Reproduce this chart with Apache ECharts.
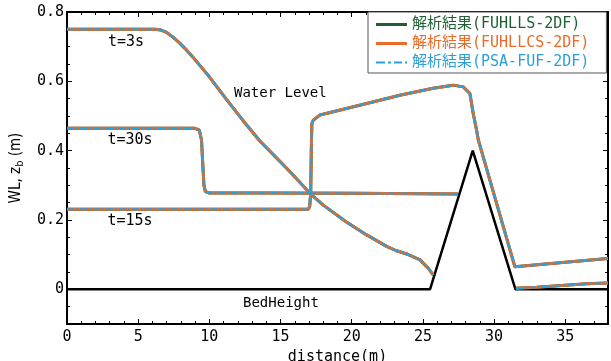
<!DOCTYPE html>
<html>
<head>
<meta charset="utf-8">
<script src="https://cdn.jsdelivr.net/npm/echarts@6.0.0/dist/echarts.min.js"></script>
<style>html,body{margin:0;padding:0;background:#fff;}#c{width:611px;height:361px;}</style>
</head>
<body>
<div id="c"></div>
<script>
// ---- data ----
const models = ['解析結果(FUHLLS-2DF)', '解析結果(FUHLLCS-2DF)', '解析結果(PSA-FUF-2DF)'];
const bedX = [0, 25.5, 28.5, 31.5, 38];
const bedZ = [0, 0, 0.4, 0, 0];
const t3X  = [0, 6.2, 6.6, 7.0, 7.4, 7.9, 8.4, 8.9, 10.0, 11.2, 12.4, 13.55, 14.7, 15.9, 17.06, 18.0, 19.6, 21.05, 22.45, 23.1, 23.86, 24.8, 25.37, 25.73];
const t3WL = [0.75, 0.75, 0.748, 0.741, 0.729, 0.711, 0.69, 0.667, 0.613, 0.548, 0.485, 0.428, 0.38, 0.329, 0.277, 0.243, 0.195, 0.157, 0.124, 0.112, 0.102, 0.085, 0.061, 0.041];
const t15X  = [0, 16.95, 17.05, 17.12, 17.16, 17.2, 17.3, 17.77, 21.05, 23.38, 25.72, 27.13, 27.83, 28.3, 28.53, 28.77, 28.89, 31.46, 35.0, 38.0];
const t15WL = [0.231, 0.231, 0.24, 0.28, 0.4, 0.478, 0.488, 0.503, 0.536, 0.56, 0.58, 0.589, 0.584, 0.565, 0.508, 0.459, 0.431, 0.065, 0.078, 0.089];
const t30X  = [0, 8.95, 9.3, 9.45, 9.55, 9.62, 9.72, 10.0, 14.0, 20.0, 25.0, 27.45];
const t30WL = [0.465, 0.465, 0.459, 0.43, 0.35, 0.3, 0.282, 0.278, 0.278, 0.277, 0.276, 0.275];
const t30dsX  = [31.53, 33.0, 35.0, 36.5, 38.0];
const t30dsWL = [0.003, 0.006, 0.012, 0.016, 0.018];
const yTickValues = [0, 0.2, 0.4, 0.6, 0.8];
const annotations = ['t=3s', 't=30s', 't=15s', 'Water Level', 'BedHeight'];

// ---- styling ----
const zip = (xs, ys) => xs.map((x, i) => [x, ys[i]]);
const curves = [zip(t3X, t3WL), zip(t15X, t15WL), zip(t30X, t30WL), zip(t30dsX, t30dsWL)];
const colors = ['#1F5F35', '#EA6A28', '#2B9FDA'];
const lineStyles = [
  { color: colors[0], width: 3, type: 'solid' },
  { color: colors[1], width: 3, type: 'solid' },
  { color: colors[2], width: 2, type: [7, 2, 2, 2] }
];
const legendIcons = [
  'path://M0,0h31v3h-31z',
  'path://M0,0h31v3h-31z',
  'path://M0,0.5h9v2h-9z M12,0.5h3v2h-3z M18,0.5h8v2h-8z M29,0.5h2v2h-2z'
];
const MONO = "'DejaVu Sans Mono', 'Noto Sans CJK JP', monospace";
const NARROW = "'Liberation Sans Narrow', 'DejaVu Sans Condensed', 'Liberation Sans', sans-serif";

const series = [{
  name: 'bed', type: 'line', data: zip(bedX, bedZ), symbol: 'none',
  lineStyle: { color: '#000', width: 2.5 }, silent: true, animation: false, z: 1
}];
models.forEach((m, mi) => {
  curves.forEach(c => {
    series.push({
      name: m, type: 'line', data: c, symbol: 'none', showSymbol: false,
      lineStyle: lineStyles[mi], itemStyle: { color: colors[mi] },
      animation: false, z: 2 + mi
    });
  });
});

const GRID = { left: 67, right: 3, top: 12, bottom: 37 };
const GW = 611 - GRID.left - GRID.right;   // 541
const GH = 361 - GRID.top - GRID.bottom;   // 312
const MAJ = 5, MIN = 3;                    // tick lengths
const isMajorY = v => Math.abs(v / 0.2 - Math.round(v / 0.2)) < 1e-6;
const axisLineStyle = { show: true, onZero: false, lineStyle: { color: '#000', width: 2 } };
const tickStyle = { color: '#000', width: 1 };
const noLine = { show: false, onZero: false };
const xBase = { type: 'value', min: 0, max: 38, interval: 5, splitLine: { show: false } };
const yBase = { type: 'value', min: -0.1, max: 0.8, interval: 0.05, splitLine: { show: false } };

// Tick-only helper axes. Their (outward) ticks are shifted with 'offset' so they sit on a border and point into the plot.
const xTicks = (extra, major, minor) => Object.assign({}, xBase, {
  axisLine: noLine, axisLabel: { show: false },
  axisTick: { show: !!major, inside: false, length: MAJ, lineStyle: tickStyle },
  minorTick: { show: !!minor, splitNumber: 5, length: MIN, lineStyle: tickStyle }
}, extra);
const yTicks = (extra, major) => Object.assign({}, yBase, {
  axisLine: noLine, axisLabel: { show: false },
  axisTick: major
    ? { show: true, inside: false, length: MAJ, customValues: yTickValues, lineStyle: tickStyle }
    : { show: true, inside: false, length: MIN, lineStyle: tickStyle }
}, extra);

const chart = echarts.init(document.getElementById('c'), null, { renderer: 'canvas' });
chart.setOption({
  backgroundColor: '#fff',
  animation: false,
  grid: Object.assign({ containLabel: false, outerBoundsMode: 'none' }, GRID),
  legend: {
    data: models.map((m, i) => ({ name: m, icon: legendIcons[i], textStyle: { color: colors[i] } })),
    orient: 'vertical', left: 368, top: 12,
    itemWidth: 31, itemHeight: 3, itemGap: 4,
    padding: [5, 17, 3, 8],
    borderColor: '#555', borderWidth: 1, backgroundColor: '#fff',
    textStyle: { fontFamily: MONO, fontSize: 15, lineHeight: 14 },
    selectedMode: false
  },
  xAxis: [
    Object.assign({}, xBase, {
      position: 'bottom', axisLine: axisLineStyle, axisTick: { show: false },
      axisLabel: { show: true, margin: 6, color: '#000', fontFamily: MONO, fontSize: 15, showMaxLabel: false },
      name: 'distance(m)', nameLocation: 'middle', nameGap: 20,
      nameTextStyle: { color: '#000', fontFamily: MONO, fontSize: 15 }
    }),
    Object.assign({}, xBase, { position: 'top', axisLine: axisLineStyle, axisTick: { show: false }, axisLabel: { show: false } }),
    xTicks({ position: 'top', offset: -GH }, true, true),      // bottom border, pointing up
    xTicks({ position: 'top', offset: -MAJ }, true, false),    // top border majors, pointing down into plot
    xTicks({ position: 'top', offset: -MIN }, false, true)     // top border minors
  ],
  yAxis: [
    Object.assign({}, yBase, {
      position: 'left', axisLine: axisLineStyle, axisTick: { show: false },
      axisLabel: { show: true, margin: 3, color: '#000', fontFamily: MONO, fontSize: 15,
        formatter: v => (Math.abs(v) < 1e-9 ? '0' : (isMajorY(v) && v > 0 ? v.toFixed(1) : '')) },
      name: 'WL, z{sub|b} (m)', nameLocation: 'middle', nameGap: 32, nameRotate: 90,
      nameTextStyle: { color: '#000', fontFamily: NARROW, fontSize: 15,
        rich: { sub: { fontFamily: NARROW, fontSize: 11, padding: [8, 0, 0, 0], color: '#000' } } }
    }),
    Object.assign({}, yBase, { position: 'right', axisLine: axisLineStyle, axisTick: { show: false }, axisLabel: { show: false } }),
    yTicks({ position: 'left', offset: -GW }, false),          // right border minors, pointing left
    yTicks({ position: 'left', offset: -GW }, true),           // right border majors
    yTicks({ position: 'left', offset: -MIN }, false),         // left border minors, pointing right into plot
    yTicks({ position: 'left', offset: -MAJ }, true)           // left border majors
  ],
  graphic: [
    { type: 'text', x: 126, y: 42, style: { text: annotations[0], font: "15px 'DejaVu Sans Mono'", fill: '#000', align: 'center', verticalAlign: 'middle' } },
    { type: 'text', x: 130, y: 140, style: { text: annotations[1], font: "15px 'DejaVu Sans Mono'", fill: '#000', align: 'center', verticalAlign: 'middle' } },
    { type: 'text', x: 130, y: 221, style: { text: annotations[2], font: "15px 'DejaVu Sans Mono'", fill: '#000', align: 'center', verticalAlign: 'middle' } },
    { type: 'text', x: 234, y: 93, style: { text: annotations[3], font: "14px 'DejaVu Sans Mono'", fill: '#000', align: 'left', verticalAlign: 'middle' } },
    { type: 'text', x: 243, y: 303, style: { text: annotations[4], font: "14px 'DejaVu Sans Mono'", fill: '#000', align: 'left', verticalAlign: 'middle' } }
  ],
  series: series
});
</script>
</body>
</html>
